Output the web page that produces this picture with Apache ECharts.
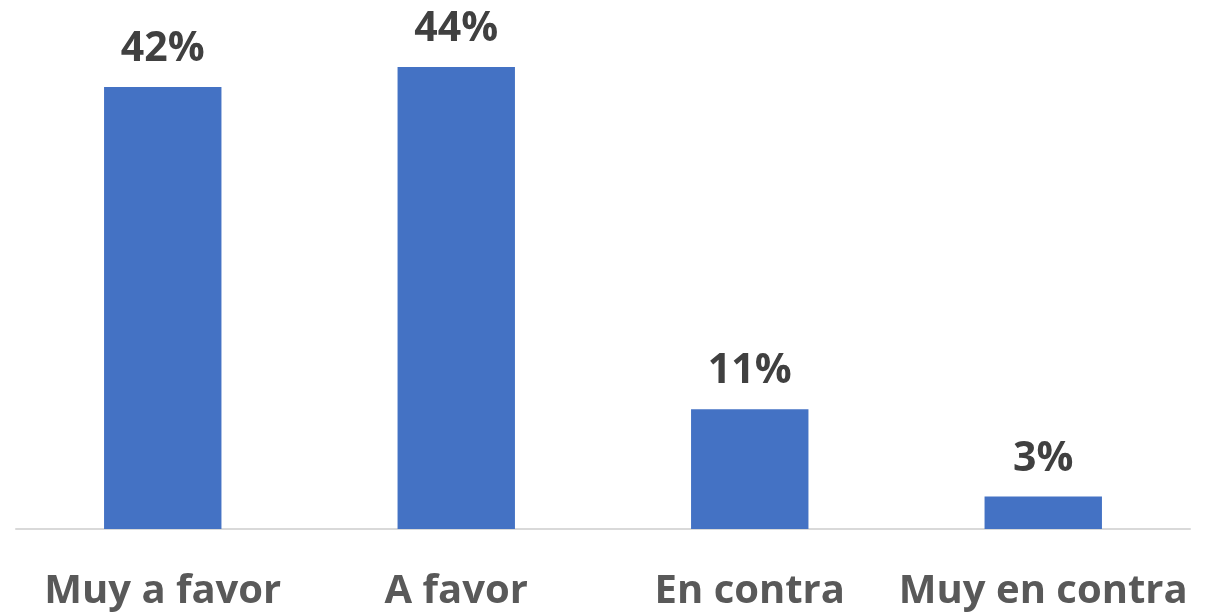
<!DOCTYPE html>
<html><head><meta charset="utf-8">
<script src="https://cdn.jsdelivr.net/npm/echarts@6/dist/echarts.min.js"></script>
<style>html,body{margin:0;padding:0;background:#fff}#c{width:1209px;height:614px}</style>
</head><body><div id="c"></div>
<script>
const categories = ['Muy a favor', 'A favor', 'En contra', 'Muy en contra'];
const values = [42.1, 44, 11.4, 3.1];
const chart = echarts.init(document.getElementById('c'), null, {renderer: 'canvas'});
chart.setOption({
  animation: false,
  grid: {left: 16, right: 19, top: 4, bottom: 85, containLabel: false},
  xAxis: {
    type: 'category', data: categories,
    axisLine: {lineStyle: {color: '#d9d9d9', width: 2}},
    axisTick: {show: false},
    axisLabel: {color: '#595959', fontFamily: 'Open Sans', fontWeight: 'bold', fontSize: 40, margin: 43, interval: 0}
  },
  yAxis: {type: 'value', min: 0, max: 50, show: false, splitLine: {show: false}},
  series: [{
    type: 'bar', data: values, barWidth: '40%',
    itemStyle: {color: '#4472c4'},
    label: {show: true, position: 'top', distance: 17, color: '#404040', fontFamily: 'Open Sans', fontWeight: 'bold', fontSize: 41,
      formatter: p => Math.round(p.value) + '%'}
  }]
});
</script></body></html>
